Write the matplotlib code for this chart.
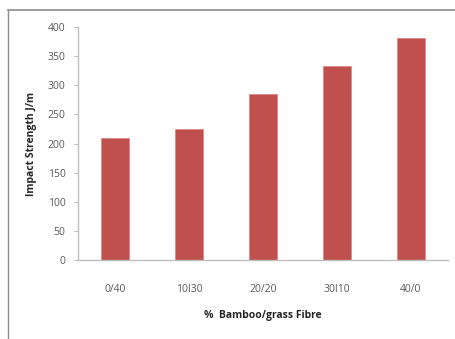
import matplotlib; matplotlib.use("Agg")
import matplotlib.pyplot as plt
from matplotlib.lines import Line2D

categories = ["0/40", "10I30", "20/20", "30I10", "40/0"]
impact = [209, 225, 285, 333, 381]
yticks = [0, 50, 100, 150, 200, 250, 300, 350, 400]

RED = "#c0504d"; GRAY = "#595959"; SPINE = "#bfbfbf"
plt.rcParams["font.family"] = ["Open Sans", "DejaVu Sans"]

fig = plt.figure(figsize=(4.56, 3.39), dpi=100)
ax = fig.add_axes([78 / 456, 1 - 260 / 339, 370 / 456, 233 / 339])

x = range(len(categories))
ax.bar(x, impact, width=0.39, color=RED, edgecolor="#d98a88", linewidth=0.6)
ax.set_xlim(-0.5, len(categories) - 0.5)
ax.set_ylim(0, 400)
ax.set_yticks(yticks)
ax.set_xticks(list(x))
ax.set_xticklabels(categories)

for s in ["top", "right"]:
    ax.spines[s].set_visible(False)
for s in ["left", "bottom"]:
    ax.spines[s].set_color(SPINE)
    ax.spines[s].set_linewidth(1.0)
ax.tick_params(axis="y", colors=SPINE, labelcolor=GRAY, labelsize=7.5, length=3, pad=6)
ax.tick_params(axis="x", length=0, labelcolor=GRAY, labelsize=7.5, pad=17)

ax.set_ylabel("Impact Strength J/m", fontsize=7.5, fontweight="bold", color="#262626", labelpad=8)
ax.set_xlabel("%  Bamboo/grass Fibre", fontsize=7.5, fontweight="bold", color="#262626", labelpad=11)

# outer frame of the pasted chart
fig.add_artist(Line2D([8 / 456, 1], [1 - 10 / 339, 1 - 10 / 339], color="#8c8c8c", lw=1.2))
fig.add_artist(Line2D([8 / 456, 8 / 456], [0, 1 - 10 / 339], color="#8c8c8c", lw=1.0))

fig.savefig("out.png", dpi=100)
